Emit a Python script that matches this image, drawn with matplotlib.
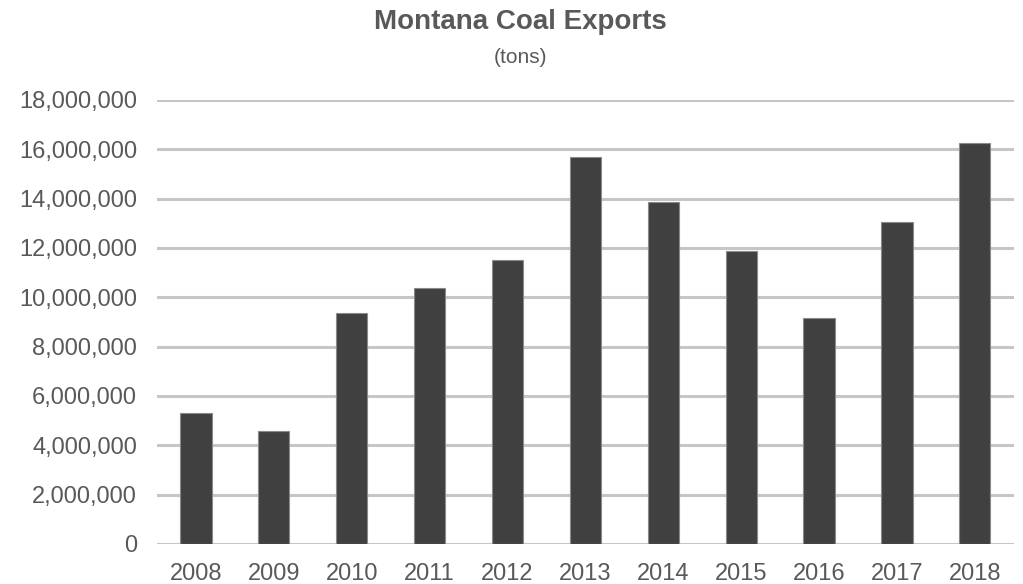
import matplotlib
matplotlib.use("Agg")
import matplotlib.pyplot as plt
from matplotlib.ticker import FuncFormatter

# Data
years = ["2008", "2009", "2010", "2011", "2012", "2013",
         "2014", "2015", "2016", "2017", "2018"]
exports = [5300000, 4580000, 9370000, 10370000, 11510000, 15670000,
           13860000, 11870000, 9160000, 13070000, 16240000]
yticks = list(range(0, 18000001, 2000000))

plt.rcParams['font.family'] = ['Liberation Sans', 'DejaVu Sans']

fig = plt.figure(figsize=(10.23, 5.84), dpi=100)
ax = fig.add_axes([0.1535, 0.0685, 0.8375, 0.7605])

x = range(len(years))
ax.bar(x, exports, width=0.4, color='#404040', edgecolor='#8a8a8a',
       linewidth=0.8, zorder=3)

ax.set_xlim(-0.5, len(years) - 0.5)
ax.set_ylim(0, 18000000)
ax.set_yticks(yticks)
ax.yaxis.set_major_formatter(FuncFormatter(lambda v, p: f"{int(v):,}"))
ax.set_xticks(list(x))
ax.set_xticklabels(years)

ax.grid(axis='y', color='#c6c6c6', linewidth=2.2, zorder=0)
for s in ax.spines.values():
    s.set_visible(False)
ax.tick_params(axis='both', length=0, labelsize=17, colors='#595959')
ax.tick_params(axis='y', pad=14.5)
ax.tick_params(axis='x', pad=14)

# Title
fig.text(0.509, 0.962, "Montana Coal Exports", ha='center', va='center',
         fontsize=20, fontweight='bold', color='#595959')
fig.text(0.509, 0.901, "(tons)", ha='center', va='center',
         fontsize=15, color='#595959')

fig.savefig("out.png", dpi=100)
